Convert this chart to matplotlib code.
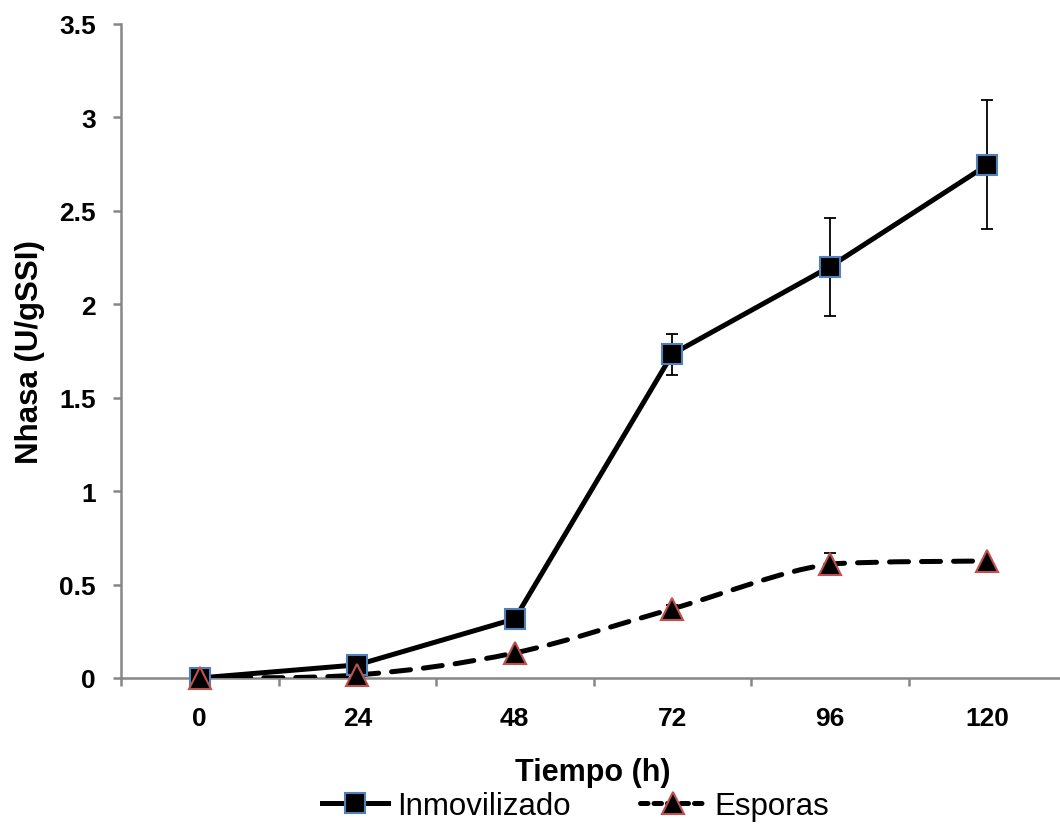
import numpy as np
import matplotlib
matplotlib.use("Agg")
import matplotlib.pyplot as plt
from matplotlib.path import Path
from matplotlib.patches import PathPatch
from matplotlib.lines import Line2D
from matplotlib.ticker import FixedLocator, FuncFormatter

# data
tiempo = ["0", "24", "48", "72", "96", "120"]
inmovilizado = [0.0, 0.07, 0.316, 1.733, 2.20, 2.745]
inmovilizado_err = [0.0, 0.0, 0.0, 0.11, 0.262, 0.345]
esporas = [0.0, 0.016, 0.134, 0.37, 0.61, 0.626]
esporas_err = [0.0, 0.0, 0.0, 0.02, 0.058, 0.0]

plt.rcParams['font.family'] = ['Liberation Sans', 'DejaVu Sans']

GRAY = "#868686"
BLUE = "#4F81BD"
RED = "#C0504D"

fig = plt.figure(figsize=(10.6, 8.29), dpi=100)
ax = fig.add_axes([0.1142, 0.181, 0.8915, 0.789])

x = np.arange(len(tiempo))

# solid series, straight segments
ax.errorbar(x, inmovilizado, yerr=inmovilizado_err, fmt='none', ecolor='black',
            elinewidth=1.3, capsize=4.5, capthick=1.3, zorder=2)
ax.plot(x, inmovilizado, color='black', lw=3.6, solid_capstyle='round', zorder=3)
ax.plot(x, inmovilizado, ls='none', marker='s', ms=14.5, mfc='black',
        mec=BLUE, mew=1.5, zorder=5, clip_on=False)

# dashed series, smoothed like Excel (bezier through the points)
ax.errorbar(x, esporas, yerr=esporas_err, fmt='none', ecolor='black',
            elinewidth=1.3, capsize=4.5, capthick=1.3, zorder=2)
pts = np.column_stack([x, esporas]).astype(float)
verts = [tuple(pts[0])]
codes = [Path.MOVETO]
n = len(pts)
for i in range(n - 1):
    p0 = pts[i - 1] if i > 0 else pts[i]
    p1 = pts[i]
    p2 = pts[i + 1]
    p3 = pts[i + 2] if i + 2 < n else pts[i + 1]
    c1 = p1 + (p2 - p0) / 6.0
    c2 = p2 - (p3 - p1) / 6.0
    if i == n - 2:
        c1 = (c1[0], min(c1[1], p2[1]))
    verts += [tuple(c1), tuple(c2), tuple(p2)]
    codes += [Path.CURVE4] * 3
patch = PathPatch(Path(verts, codes), fill=False, edgecolor='black', lw=3.6,
                  linestyle=(0, (3.8, 2.6)), capstyle='round', zorder=3)
ax.add_patch(patch)
ax.plot(x, esporas, ls='none', marker='^', ms=15.5, mfc='black',
        mec=RED, mew=1.5, zorder=6, clip_on=False)

ax.set_xlim(-0.5, len(tiempo) - 0.5)
ax.set_ylim(0, 3.5)

for s in ['top', 'right']:
    ax.spines[s].set_visible(False)
for s in ['left', 'bottom']:
    ax.spines[s].set_color(GRAY)
    ax.spines[s].set_linewidth(1.8)

ax.set_xticks(x)
ax.set_xticklabels(tiempo)
ax.xaxis.set_minor_locator(FixedLocator(np.arange(-0.5, len(tiempo), 1.0)))
ax.tick_params(axis='x', which='major', length=0, pad=20, labelsize=19)
ax.tick_params(axis='x', which='minor', length=6, width=1.8, color=GRAY, direction='out')
ax.set_yticks(np.arange(0, 3.51, 0.5))
ax.yaxis.set_major_formatter(FuncFormatter(lambda v, p: "%g" % v))
ax.tick_params(axis='y', length=6, width=1.8, color=GRAY, pad=12, labelsize=19)
for lab in ax.get_xticklabels() + ax.get_yticklabels():
    lab.set_fontweight('bold')

ax.set_ylabel("Nhasa (U/gSSI)", fontsize=22.5, fontweight='bold')
ax.yaxis.set_label_coords(-(121 - 30) / 945, 0.5)
ax.yaxis.label.set_verticalalignment('center')
ax.set_xlabel("Tiempo (h)", fontsize=22, fontweight='bold')
ax.xaxis.set_label_coords((593 - 121) / 945, -(773 - 679) / 654)
ax.xaxis.label.set_verticalalignment('center')

handles = [
    Line2D([0], [0], color='black', lw=3.6, marker='s', ms=14.5, mfc='black',
           mec=BLUE, mew=1.5),
    Line2D([0], [0], color='black', lw=3.6, ls=(0, (1.5, 1.2)), dash_capstyle='round',
           marker='^', ms=15.5, mfc='black', mec=RED, mew=1.5),
]
fig.legend(handles, ["Inmovilizado", "Esporas"], loc='center',
           bbox_to_anchor=(576 / 1060, 1 - 807 / 829), ncol=2, frameon=False,
           fontsize=22.5, handlelength=2.1, handletextpad=0.3, columnspacing=2.2,
           borderpad=0, borderaxespad=0)

fig.savefig("out.png", dpi=100)
